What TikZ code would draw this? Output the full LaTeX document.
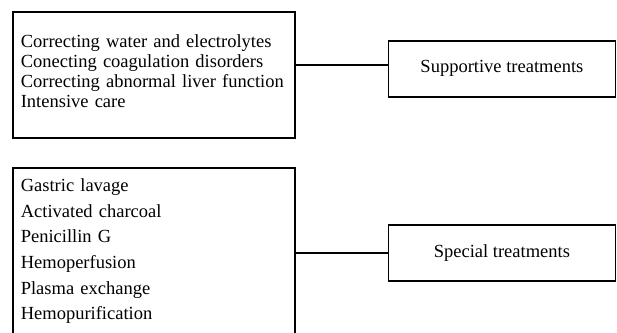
\documentclass[tikz,border=0pt]{standalone}
\usepackage{fontspec}
\setmainfont{Liberation Serif}
\usetikzlibrary{positioning}
\tikzset{
  listbox/.style={rectangle, draw=black, line width=1.6pt, anchor=north west,
                  text width=266pt, inner xsep=8pt, align=left, minimum width=282pt},
  treatbox/.style={rectangle, draw=black, line width=1.6pt, align=center,
                   minimum width=227pt, minimum height=56pt, font=\fontsize{18.5}{20}\selectfont},
  conn/.style={line width=1.6pt},
}

\begin{document}
\begin{tikzpicture}[x=1pt, y=-1pt]
  \clip (0,0) rectangle (617,332);

  % Left lists
  \node[listbox, minimum height=126pt, font=\fontsize{18.5}{20}\selectfont] (care) at (12,11)
    {Correcting water and electrolytes\\Conecting coagulation disorders\\Correcting abnormal liver function\\Intensive care\\[-12pt]\mbox{}};
  \node[listbox, minimum height=167pt, font=\fontsize{18.5}{25.6}\selectfont] (lavage) at (12,167)
    {Gastric lavage\\Activated charcoal\\Penicillin G\\Hemoperfusion\\Plasma exchange\\Hemopurification};

  % Treatment types
  \node[treatbox, right=92pt of care.east, anchor=west, yshift=6pt] (sup) {Supportive treatments};
  \node[treatbox, right=92pt of lavage.east, anchor=west, yshift=-1.5pt] (spec) {Special treatments};

  % Links
  \draw[conn] ([yshift=4pt]care.east |- sup.west) -- ([yshift=4pt]sup.west);
  \draw[conn] (lavage.east |- spec.west) -- (spec.west);

\end{tikzpicture}
\end{document}
